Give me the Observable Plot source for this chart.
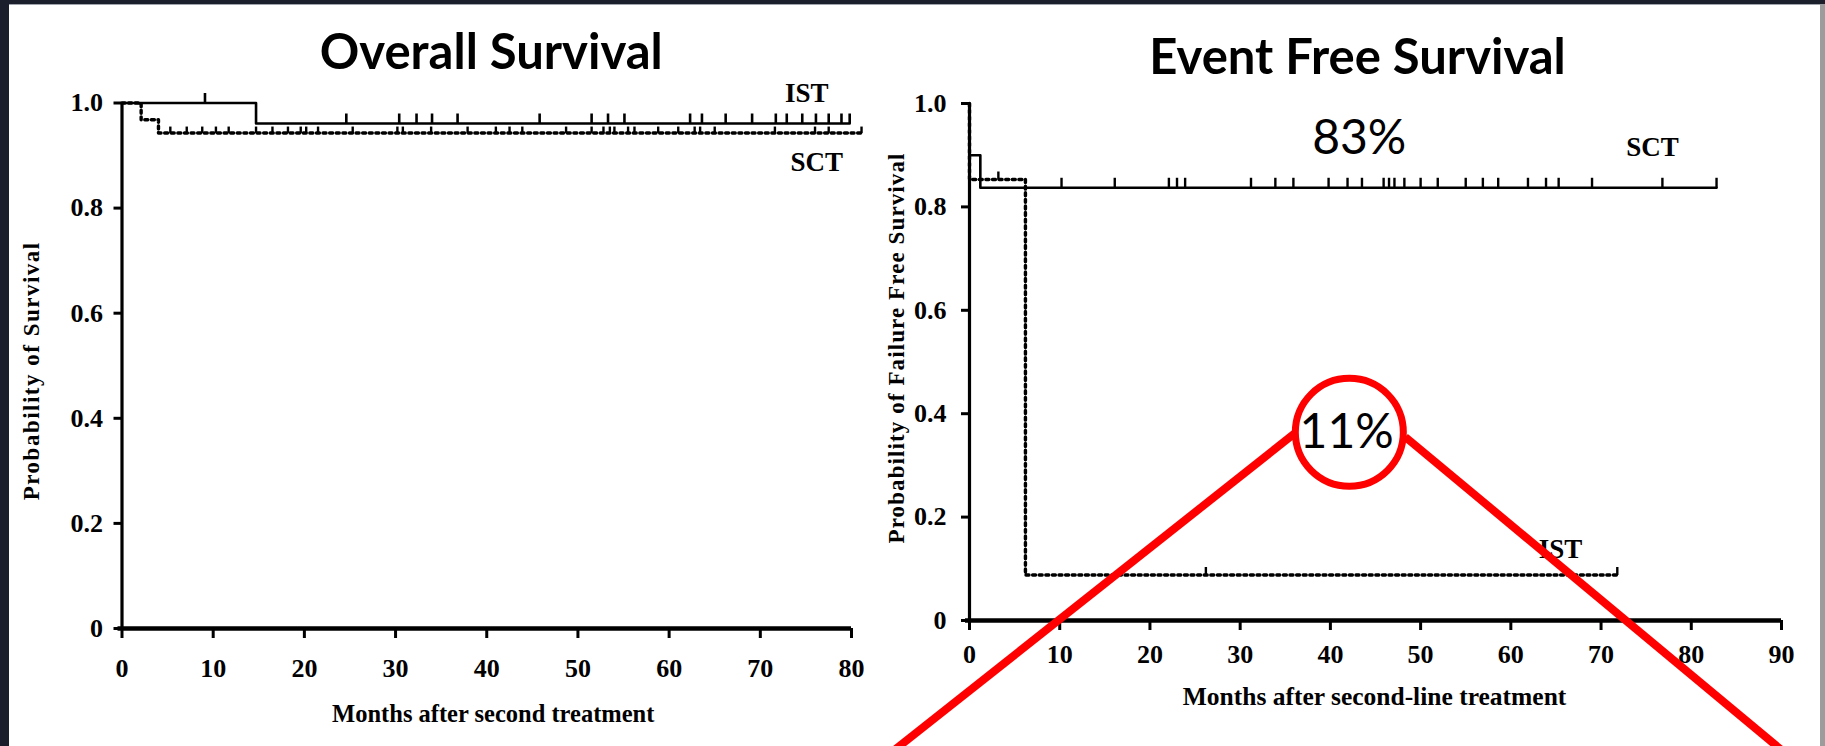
<!DOCTYPE html>
<html><head><meta charset="utf-8">
<script src="https://cdn.jsdelivr.net/npm/d3@7"></script>
<script src="https://cdn.jsdelivr.net/npm/@observablehq/plot@0.6"></script>
<style>
html,body{margin:0;padding:0;}
body{width:1825px;height:746px;background:#1b1f2c;position:relative;overflow:hidden;}
#panel{position:absolute;left:9px;top:4px;width:1811px;height:742px;background:#fff;border-top:1px solid #a0a4ad;box-sizing:border-box;}
#strip{position:absolute;left:1820px;top:4px;width:5px;height:742px;background:#9c9c9c;}
#left,#right{position:absolute;top:0;height:746px;}
#left{left:0;width:880px;}
#right{left:880px;width:945px;}
</style></head><body>
<div id="panel"></div><div id="strip"></div>
<div id="left"></div><div id="right"></div>
<script>
// ---------- tick values ----------
const survTicks = [0, 0.2, 0.4, 0.6, 0.8, 1.0];
const survTickLabels = ["0", "0.2", "0.4", "0.6", "0.8", "1.0"];
const osTicksX = [0, 10, 20, 30, 40, 50, 60, 70, 80];
const efsTicksX = [0, 10, 20, 30, 40, 50, 60, 70, 80, 90];

// ---------- Overall Survival ----------
const osIstTime = [0, 14.7, 79.8];
const osIstSurv = [1.0, 0.961, 0.961];
const osIstCensor = [9.1, 24.6, 30.4, 32.3, 34.0, 36.8, 45.8, 51.5, 53.3, 55.1, 62.3, 63.6, 66.2, 69.1, 71.7, 72.9, 74.6, 76.1, 77.5, 78.9, 79.8];
const osSctTime = [0, 2.1, 4.0, 81.1];
const osSctSurv = [1.0, 0.968, 0.943, 0.943];
const osSctCensor = [5.3, 7.1, 8.8, 10.3, 11.7, 14.7, 16.5, 18.2, 19.6, 20.2, 21.5, 25.3, 30.2, 30.8, 33.9, 37.9, 41.0, 42.5, 43.9, 48.7, 51.5, 52.8, 53.5, 54.0, 55.5, 56.2, 58.8, 61.0, 62.8, 63.4, 65.0, 71.6, 76.0, 77.5, 81.1];
const osLabelText = ["IST", "SCT"];
const osLabelTime = [75.1, 76.2];
const osLabelSurv = [1.018, 0.887];

// ---------- Event Free Survival ----------
const efsSctTime = [0, 0, 1.2, 82.8];
const efsSctSurv = [1.0, 0.90, 0.837, 0.837];
const efsSctCensor = [10.2, 16.1, 22.1, 23.0, 23.9, 31.2, 33.9, 35.9, 39.8, 41.9, 43.5, 45.9, 46.5, 47.1, 48.2, 50.0, 51.9, 55.0, 56.9, 58.6, 61.9, 63.9, 65.3, 69.0, 76.8, 82.8];
const efsIstTime = [0, 0, 6.2, 71.8];
const efsIstSurv = [1.0, 0.853, 0.088, 0.088];
const efsIstCensor = [3.2, 26.2, 71.8];
const efsLabelText = ["SCT", "IST"];
const efsLabelTime = [75.7, 65.5];
const efsLabelSurv = [0.915, 0.137];

// ---------- annotations (EFS panel) ----------
const pctText = ["83%", "11%"];
const pctTime = [43.2, 41.8];
const pctSurv = [0.932, 0.364];
const circleTime = [42.1];
const circleSurv = [0.364];
const calloutX1 = [36.7, 48.3];
const calloutY1 = [0.371, 0.355];
const calloutX2 = [-11.9, 93.4];
const calloutY2 = [-0.30, -0.30];

// ---------- helpers ----------
const serif = "'Liberation Serif', 'Times New Roman', serif";
const sans = "Lato, 'Open Sans', sans-serif";
function stepValue(times, surv, t) { let v = surv[0]; for (let i = 0; i < times.length; i++) if (times[i] <= t) v = surv[i]; return v; }
function curveRows(times, surv) { return times.map((t, i) => ({t, s: surv[i]})); }
function censorRows(times, surv, cens) { return cens.map(t => ({t, s: stepValue(times, surv, t)})); }
const tickUp = { draw(ctx, size) { const l = Math.sqrt(size / Math.PI) * 2; ctx.moveTo(0, 0); ctx.lineTo(0, -l); } };
const fmtSurv = d => survTickLabels[survTicks.indexOf(d)];
const solid = {x: "t", y: "s", curve: "step-after", stroke: "black", strokeWidth: 2.6};
const dotted = {x: "t", y: "s", curve: "step-after", stroke: "black", strokeWidth: 3.4, strokeDasharray: "3,3.6"};
const tickFont = {fontFamily: serif, fontWeight: "bold", fontSize: 26};

// ---------- left chart ----------
const left = Plot.plot({
  width: 880, height: 746,
  marginLeft: 121.5, marginRight: 29, marginTop: 102.5, marginBottom: 118,
  style: {background: "transparent", overflow: "visible", fontFamily: serif, fontSize: "26px", fontWeight: "bold", color: "black"},
  x: {domain: [0, 80]},
  y: {domain: [0, 1]},
  marks: [
    Plot.axisY({ticks: survTicks, tickFormat: fmtSurv, tickSize: 8, tickPadding: 11, strokeWidth: 3, label: null, ...tickFont}),
    Plot.axisX({ticks: osTicksX, tickSize: 10, tickPadding: 20, strokeWidth: 3, label: null, ...tickFont}),
    Plot.ruleX([0], {strokeWidth: 3.2}),
    Plot.ruleY([0], {strokeWidth: 4.5, insetLeft: -4}),
    Plot.line(curveRows(osIstTime, osIstSurv), solid),
    Plot.line(curveRows(osSctTime, osSctSurv), dotted),
    Plot.dot(censorRows(osIstTime, osIstSurv, osIstCensor), {x: "t", y: "s", symbol: tickUp, r: 5, stroke: "black", strokeWidth: 2.6, fill: "none"}),
    Plot.dot(censorRows(osSctTime, osSctSurv, osSctCensor), {x: "t", y: "s", symbol: tickUp, r: 3.2, stroke: "black", strokeWidth: 2.4, fill: "none"}),
    Plot.text(osLabelText, {x: (d, i) => osLabelTime[i], y: (d, i) => osLabelSurv[i], text: d => d, fontFamily: serif, fontWeight: "bold", fontSize: 27}),
    Plot.text(["Overall Survival"], {frameAnchor: "top", dx: 4.5, dy: -50, text: d => d, textAnchor: "middle", lineAnchor: "middle", fontFamily: sans, fontWeight: "bold", fontSize: 49}),
    Plot.text(["Months after second treatment"], {frameAnchor: "bottom", dx: 6.5, dy: 85.5, text: d => d, textAnchor: "middle", lineAnchor: "middle", fontFamily: serif, fontWeight: "bold", fontSize: 24.5}),
    Plot.text(["Probability of Survival"], {frameAnchor: "left", dx: -90.5, dy: 5, rotate: -90, text: d => d, textAnchor: "middle", lineAnchor: "middle", fontFamily: serif, fontWeight: "bold", fontSize: 23})
  ]
});
document.getElementById("left").appendChild(left);

// ---------- right chart ----------
const right = Plot.plot({
  width: 945, height: 746,
  marginLeft: 89, marginRight: 44, marginTop: 103, marginBottom: 126,
  style: {background: "transparent", overflow: "visible", fontFamily: serif, fontSize: "26px", fontWeight: "bold", color: "black"},
  x: {domain: [0, 90]},
  y: {domain: [0, 1]},
  marks: [
    Plot.axisY({ticks: survTicks, tickFormat: fmtSurv, tickSize: 8, tickPadding: 15, strokeWidth: 3, label: null, ...tickFont}),
    Plot.axisX({ticks: efsTicksX, tickSize: 10, tickPadding: 14, strokeWidth: 3, label: null, ...tickFont}),
    Plot.ruleX([0], {strokeWidth: 3.2}),
    Plot.ruleY([0], {strokeWidth: 4.5, insetLeft: -4}),
    Plot.line(curveRows(efsSctTime, efsSctSurv), solid),
    Plot.line(curveRows(efsIstTime, efsIstSurv), dotted),
    Plot.dot(censorRows(efsSctTime, efsSctSurv, efsSctCensor), {x: "t", y: "s", symbol: tickUp, r: 5, stroke: "black", strokeWidth: 2.4, fill: "none"}),
    Plot.dot(censorRows(efsIstTime, efsIstSurv, efsIstCensor), {x: "t", y: "s", symbol: tickUp, r: 4, stroke: "black", strokeWidth: 2.4, fill: "none"}),
    Plot.text(efsLabelText, {x: (d, i) => efsLabelTime[i], y: (d, i) => efsLabelSurv[i], text: d => d, fontFamily: serif, fontWeight: "bold", fontSize: 27}),
    Plot.text(pctText.slice(0, 1), {x: (d, i) => pctTime[i], y: (d, i) => pctSurv[i], text: d => d, fontFamily: sans, fontWeight: "normal", fontSize: 48}),
    Plot.link(d3.range(calloutX1.length), {x1: i => calloutX1[i], y1: i => calloutY1[i], x2: i => calloutX2[i], y2: i => calloutY2[i], stroke: "#ff0000", strokeWidth: 8}),
    Plot.dot(circleTime, {x: d => d, y: (d, i) => circleSurv[i], r: 54, stroke: "#ff0000", strokeWidth: 7, fill: "white"}),
    Plot.text(pctText.slice(1), {x: (d, i) => pctTime[i + 1], y: (d, i) => pctSurv[i + 1], text: d => d, fontFamily: sans, fontWeight: "normal", fontSize: 48}),
    Plot.text(["Event Free Survival"], {frameAnchor: "top", dx: -18, dy: -45, text: d => d, textAnchor: "middle", lineAnchor: "middle", fontFamily: sans, fontWeight: "bold", fontSize: 49}),
    Plot.text(["Months after second-line treatment"], {frameAnchor: "bottom", dx: -1, dy: 76, text: d => d, textAnchor: "middle", lineAnchor: "middle", fontFamily: serif, fontWeight: "bold", fontSize: 25.5}),
    Plot.text(["Probability of Failure Free Survival"], {frameAnchor: "left", dx: -73, dy: -14, rotate: -90, text: d => d, textAnchor: "middle", lineAnchor: "middle", fontFamily: serif, fontWeight: "bold", fontSize: 23})
  ]
});
document.getElementById("right").appendChild(right);

// letter spacing of the rotated axis titles
d3.select(left).selectAll("text").filter(function() { return this.textContent === "Probability of Survival"; }).attr("letter-spacing", 1.5);
d3.select(right).selectAll("text").filter(function() { return this.textContent === "Probability of Failure Free Survival"; }).attr("letter-spacing", 1.1);
</script></body></html>
